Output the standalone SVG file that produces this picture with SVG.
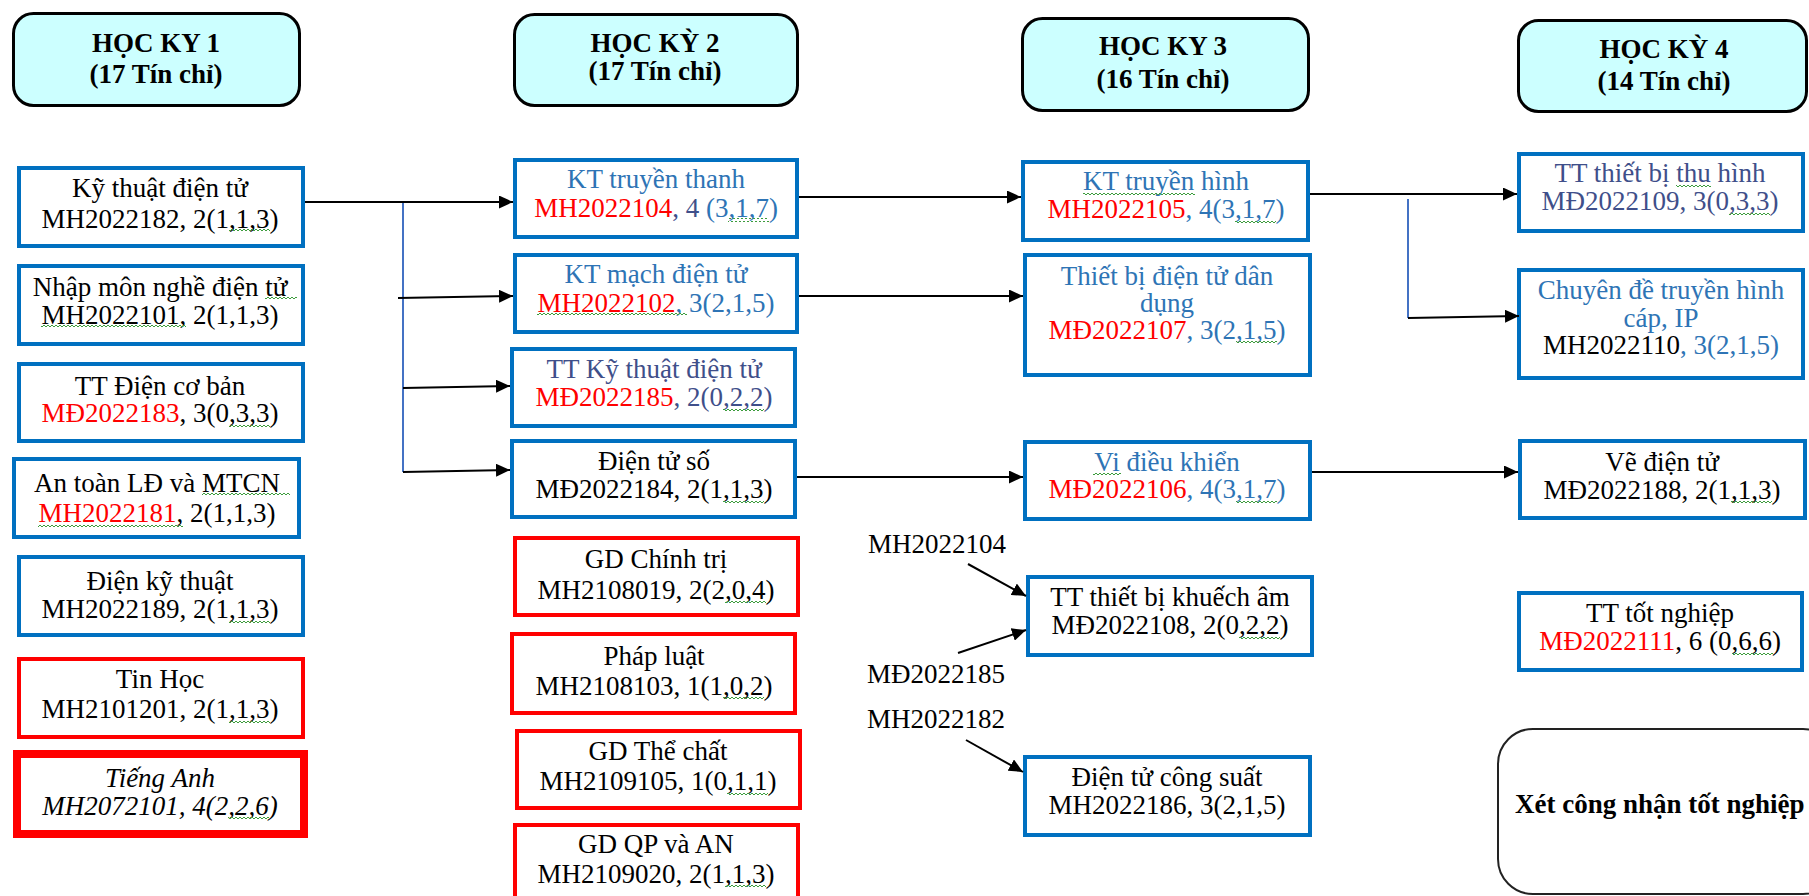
<svg xmlns="http://www.w3.org/2000/svg" width="1809" height="896" viewBox="0 0 1809 896" font-family="'Liberation Serif', 'Times New Roman', serif">
<defs>
<style>
text { font-family: "Liberation Serif", "Times New Roman", serif; font-size: 27px; fill: #000; }
.c { text-anchor: middle; }
.hd { font-weight: bold; }
.it { font-style: italic; }
.hbox { fill: #ccffff; stroke: #000; stroke-width: 3; }
.bb { fill: #fff; stroke: #0070c0; stroke-width: 4; }
.rb { fill: #fff; stroke: #ff0000; stroke-width: 4; }
.rbt { fill: #fff; stroke: #ff0000; stroke-width: 8; }
.gbox { fill: #fff; stroke: #222; stroke-width: 2; }
.red { fill: #ff0000; }
.blu { fill: #2e74b5; }
.sl { fill: #3f4f8a; }
.sq { fill: url(#wave); }
.ln { stroke: #000; stroke-width: 2; fill: none; }
.bl { stroke: #4472c4; stroke-width: 2; fill: none; }
</style>
<!-- wavy proofing underline tile -->
<pattern id="wave" patternUnits="userSpaceOnUse" width="4" height="4">
<path d="M0,1 L2,3 L4,1" fill="none" stroke="#3c9c3c" stroke-width="1"/>
</pattern>
<marker id="ah" markerUnits="userSpaceOnUse" markerWidth="15" markerHeight="13" refX="14" refY="6.5" orient="auto">
<path d="M0,0 L14,6.5 L0,13 z" fill="#000"/>
</marker>
</defs>

<rect x="0" y="0" width="1809" height="896" fill="#fff"/>

<!-- Semester headers -->
<g id="hk1">
<rect class="hbox" x="13.5" y="13.5" width="286" height="92" rx="20"/>
<text class="c hd" x="156" y="52">HỌC KY 1</text>
<text class="c hd" x="156" y="83">(17 Tín chỉ)</text>
</g>
<g id="hk2">
<rect class="hbox" x="514.5" y="14.5" width="283" height="91" rx="20"/>
<text class="c hd" x="655" y="52">HỌC KỲ 2</text>
<text class="c hd" x="655" y="80">(17 Tín chỉ)</text>
</g>
<g id="hk3">
<rect class="hbox" x="1022.5" y="18.5" width="286" height="92" rx="20"/>
<text class="c hd" x="1163" y="55">HỌC KY 3</text>
<text class="c hd" x="1163" y="88">(16 Tín chỉ)</text>
</g>
<g id="hk4">
<rect class="hbox" x="1518.5" y="20.5" width="288" height="91" rx="20"/>
<text class="c hd" x="1664" y="58">HỌC KỲ 4</text>
<text class="c hd" x="1664" y="90">(14 Tín chỉ)</text>
</g>

<!-- Semester 1 -->
<g id="mh2022182">
<rect class="bb" x="19" y="168" width="284" height="78"/>
<text class="c" x="160" y="197">Kỹ thuật điện tử</text>
<text class="c" x="160" y="228">MH2022182, 2(1,1,3)</text>
<rect class="sq" x="229" y="229" width="41" height="4"/>
</g>
<g id="mh2022101">
<rect class="bb" x="19" y="266" width="284" height="78"/>
<text class="c" x="160" y="296">Nhập môn nghề điện tử</text>
<text class="c" x="160" y="324">MH2022101, 2(1,1,3)</text>
<rect class="sq" x="265" y="297" width="32" height="4"/>
<rect class="sq" x="41" y="325" width="145" height="4"/>
</g>
<g id="md2022183">
<rect class="bb" x="19" y="364" width="284" height="77"/>
<text class="c" x="160" y="395">TT Điện cơ bản</text>
<text class="c" x="160" y="422"><tspan class="red">MĐ2022183</tspan>, 3(0,3,3)</text>
<rect class="sq" x="229" y="423" width="41" height="4"/>
</g>
<g id="mh2022181">
<rect class="bb" x="14" y="459" width="285" height="78"/>
<text class="c" x="157" y="492">An toàn LĐ và MTCN</text>
<text class="c" x="157" y="522"><tspan class="red">MH2022181</tspan>, 2(1,1,3)</text>
<rect class="sq" x="202" y="493" width="88" height="4"/>
<rect class="sq" x="38" y="523" width="145" height="4"/>
</g>
<g id="mh2022189">
<rect class="bb" x="19" y="557" width="284" height="78"/>
<text class="c" x="160" y="590">Điện kỹ thuật</text>
<text class="c" x="160" y="618">MH2022189, 2(1,1,3)</text>
<rect class="sq" x="229" y="619" width="41" height="4"/>
</g>
<g id="mh2101201">
<rect class="rb" x="19" y="659" width="284" height="78"/>
<text class="c" x="160" y="688">Tin Học</text>
<text class="c" x="160" y="718">MH2101201, 2(1,1,3)</text>
<rect class="sq" x="229" y="719" width="41" height="4"/>
</g>
<g id="mh2072101">
<rect class="rbt" x="17" y="754" width="287" height="80"/>
<text class="c it" x="160" y="787">Tiếng Anh</text>
<text class="c it" x="160" y="815">MH2072101, 4(2,2,6)</text>
<rect class="sq" x="228" y="816" width="41" height="4"/>
</g>

<!-- Semester 2 -->
<g id="mh2022104">
<rect class="bb" x="515" y="160" width="282" height="77"/>
<text class="c blu" x="656" y="188">KT truyền thanh</text>
<text class="c" x="656" y="217"><tspan class="red">MH2022104</tspan><tspan class="sl">, 4 </tspan><tspan class="blu">(3,1,7)</tspan></text>
<rect class="sq" x="728" y="218" width="41" height="4"/>
</g>
<g id="mh2022102">
<rect class="bb" x="515" y="255" width="282" height="77"/>
<text class="c blu" x="656" y="283">KT mạch điện tử</text>
<text class="c" x="656" y="312"><tspan class="red">MH2022102</tspan><tspan class="blu">, 3(2,1,5)</tspan></text>
<rect class="sq" x="537" y="313" width="150" height="4"/>
</g>
<g id="md2022185">
<rect class="bb" x="512" y="349" width="283" height="77"/>
<text class="c sl" x="654" y="378">TT Kỹ thuật điện tử</text>
<text class="c" x="654" y="406"><tspan class="red">MĐ2022185</tspan><tspan class="sl">, 2(0,2,2)</tspan></text>
<rect class="sq" x="723" y="407" width="41" height="4"/>
</g>
<g id="md2022184">
<rect class="bb" x="512" y="441" width="283" height="76"/>
<text class="c" x="654" y="470">Điện tử số</text>
<text class="c" x="654" y="498">MĐ2022184, 2(1,1,3)</text>
<rect class="sq" x="723" y="499" width="41" height="4"/>
</g>
<g id="mh2108019">
<rect class="rb" x="515" y="538" width="283" height="77"/>
<text class="c" x="656" y="568">GD Chính trị</text>
<text class="c" x="656" y="599">MH2108019, 2(2,0,4)</text>
<rect class="sq" x="725" y="600" width="41" height="4"/>
</g>
<g id="mh2108103">
<rect class="rb" x="512" y="634" width="283" height="79"/>
<text class="c" x="654" y="665">Pháp luật</text>
<text class="c" x="654" y="695">MH2108103, 1(1,0,2)</text>
<rect class="sq" x="723" y="696" width="41" height="4"/>
</g>
<g id="mh2109105">
<rect class="rb" x="517" y="731" width="283" height="77"/>
<text class="c" x="658" y="760">GD Thể chất</text>
<text class="c" x="658" y="790">MH2109105, 1(0,1,1)</text>
<rect class="sq" x="727" y="791" width="41" height="4"/>
</g>
<g id="mh2109020">
<rect class="rb" x="515" y="825" width="283" height="90"/>
<text class="c" x="656" y="853">GD QP và AN</text>
<text class="c" x="656" y="883">MH2109020, 2(1,1,3)</text>
<rect class="sq" x="725" y="884" width="41" height="4"/>
</g>

<!-- Semester 3 -->
<g id="mh2022105">
<rect class="bb" x="1023" y="162" width="285" height="78"/>
<text class="c blu" x="1166" y="190">KT truyền hình</text>
<text class="c" x="1166" y="218"><tspan class="red">MH2022105</tspan><tspan class="blu">, 4(3,1,7)</tspan></text>
<rect class="sq" x="1083" y="191" width="112" height="4"/>
<rect class="sq" x="1235" y="219" width="41" height="4"/>
</g>
<g id="md2022107">
<rect class="bb" x="1025" y="255" width="285" height="120"/>
<text class="c blu" x="1167" y="285">Thiết bị điện tử dân</text>
<text class="c blu" x="1167" y="312">dụng</text>
<text class="c" x="1167" y="339"><tspan class="red">MĐ2022107</tspan><tspan class="blu">, 3(2,1,5)</tspan></text>
<rect class="sq" x="1236" y="340" width="41" height="4"/>
</g>
<g id="md2022106">
<rect class="bb" x="1025" y="442" width="285" height="77"/>
<text class="c blu" x="1167" y="471">Vi điều khiển</text>
<text class="c" x="1167" y="498"><tspan class="red">MĐ2022106</tspan><tspan class="blu">, 4(3,1,7)</tspan></text>
<rect class="sq" x="1093" y="472" width="28" height="4"/>
<rect class="sq" x="1236" y="499" width="41" height="4"/>
</g>
<g id="md2022108">
<rect class="bb" x="1028" y="577" width="284" height="78"/>
<text class="c" x="1170" y="606">TT thiết bị khuếch âm</text>
<text class="c" x="1170" y="634">MĐ2022108, 2(0,2,2)</text>
<rect class="sq" x="1239" y="635" width="41" height="4"/>
</g>
<g id="mh2022186">
<rect class="bb" x="1025" y="757" width="285" height="78"/>
<text class="c" x="1167" y="786">Điện tử công suất</text>
<text class="c" x="1167" y="814">MH2022186, 3(2,1,5)</text>
</g>
<g id="prereq-labels">
<text x="868" y="553">MH2022104</text>
<text x="867" y="683">MĐ2022185</text>
<text x="867" y="728">MH2022182</text>
</g>

<!-- Semester 4 -->
<g id="md2022109">
<rect class="bb" x="1519" y="154" width="284" height="77"/>
<text class="c sl" x="1660" y="182">TT thiết bị thu hình</text>
<text class="c sl" x="1660" y="210">MĐ2022109, 3(0,3,3)</text>
<rect class="sq" x="1676" y="183" width="35" height="4"/>
<rect class="sq" x="1729" y="211" width="41" height="4"/>
</g>
<g id="mh2022110">
<rect class="bb" x="1519" y="270" width="284" height="108"/>
<text class="c blu" x="1661" y="299">Chuyên đề truyền hình</text>
<text class="c blu" x="1661" y="327">cáp, IP</text>
<text class="c" x="1661" y="354">MH2022110<tspan class="blu">, 3(2,1,5)</tspan></text>
</g>
<g id="md2022188">
<rect class="bb" x="1520" y="441" width="285" height="77"/>
<text class="c" x="1662" y="471">Vẽ điện tử</text>
<text class="c" x="1662" y="499">MĐ2022188, 2(1,1,3)</text>
<rect class="sq" x="1731" y="500" width="41" height="4"/>
</g>
<g id="md2022111">
<rect class="bb" x="1519" y="593" width="283" height="77"/>
<text class="c" x="1660" y="622">TT tốt nghiệp</text>
<text class="c" x="1660" y="650"><tspan class="red">MĐ2022111</tspan>, 6 (0,6,6)</text>
<rect class="sq" x="1732" y="651" width="41" height="4"/>
</g>
<g id="tot-nghiep">
<rect class="gbox" x="1498" y="729" width="340" height="165" rx="35"/>
<text class="hd" x="1515" y="813">Xét công nhận tốt nghiệp</text>
</g>

<!-- Connectors -->
<g id="connectors">
<line class="bl" x1="403" y1="202" x2="403" y2="472"/>
<line class="ln" x1="305" y1="202" x2="513" y2="202" marker-end="url(#ah)"/>
<line class="ln" x1="398" y1="298" x2="513" y2="296" marker-end="url(#ah)"/>
<line class="ln" x1="403" y1="388" x2="510" y2="386" marker-end="url(#ah)"/>
<line class="ln" x1="403" y1="472" x2="510" y2="470" marker-end="url(#ah)"/>

<line class="ln" x1="799" y1="197" x2="1021" y2="197" marker-end="url(#ah)"/>
<line class="ln" x1="799" y1="296" x2="1023" y2="296" marker-end="url(#ah)"/>
<line class="ln" x1="797" y1="477" x2="1023" y2="477" marker-end="url(#ah)"/>

<line class="ln" x1="968" y1="564" x2="1026" y2="596" marker-end="url(#ah)"/>
<line class="ln" x1="958" y1="653" x2="1026" y2="630" marker-end="url(#ah)"/>
<line class="ln" x1="966" y1="740" x2="1023" y2="772" marker-end="url(#ah)"/>

<line class="bl" x1="1408" y1="199" x2="1408" y2="318"/>
<line class="ln" x1="1310" y1="194" x2="1517" y2="194" marker-end="url(#ah)"/>
<line class="ln" x1="1408" y1="318" x2="1519" y2="316" marker-end="url(#ah)"/>
<line class="ln" x1="1312" y1="472" x2="1518" y2="472" marker-end="url(#ah)"/>
</g>
</svg>
